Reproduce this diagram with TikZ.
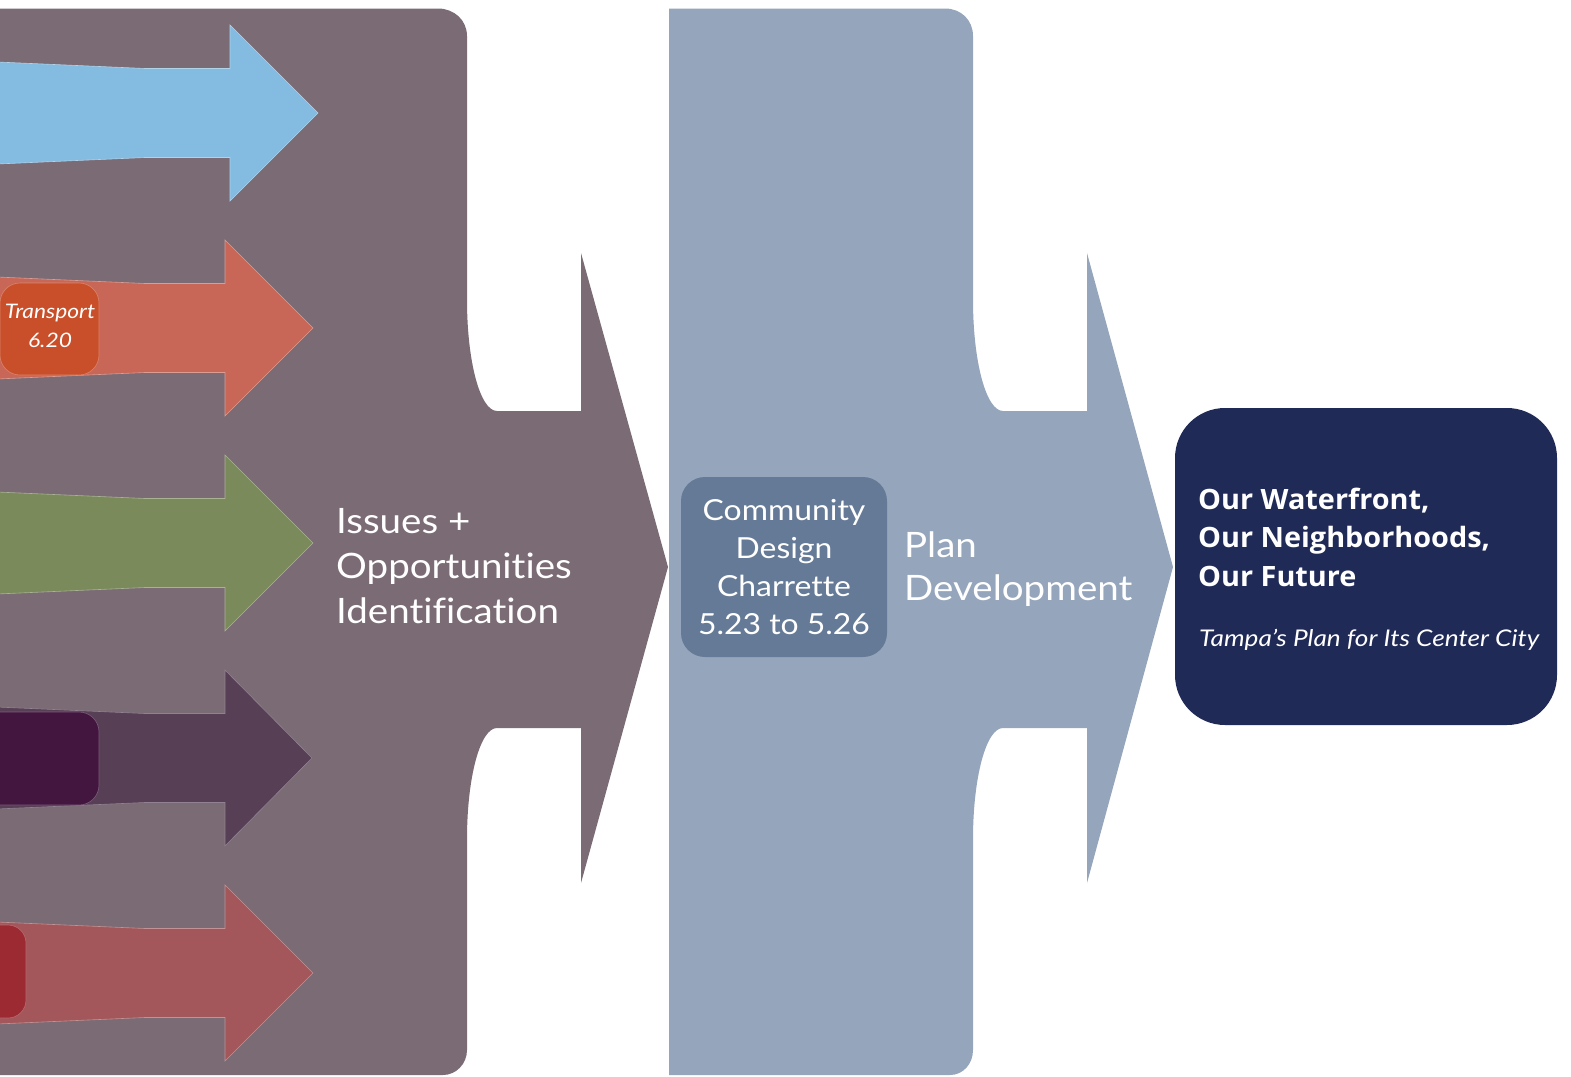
\documentclass[tikz,border=0pt]{standalone}
\usepackage{fontspec}
\setmainfont{Lato}[Ligatures=NoCommon, FakeStretch=1.1]
\newfontfamily\slantfont{Lato}[Ligatures=NoCommon, FakeStretch=1.14]
\newfontfamily\headfont{Open Sans}[FakeStretch=1.03]
\definecolor{mauve}{HTML}{7B6B75}
\definecolor{steel}{HTML}{95A5BB}
\definecolor{steeldark}{HTML}{657A96}
\definecolor{navy}{HTML}{1F2A56}
\definecolor{skyarrow}{HTML}{84BBE0}
\definecolor{rustarrow}{HTML}{C86757}
\definecolor{rustbox}{HTML}{C84F2A}
\definecolor{olivearrow}{HTML}{7A8A5B}
\definecolor{plumarrow}{HTML}{573F56}
\definecolor{plumbox}{HTML}{42163F}
\definecolor{winearrow}{HTML}{A3575A}
\definecolor{winebox}{HTML}{9C2A33}
% feeder arrow: #1 centre y, #2 neck x, #3 tip x, #4 colour
\newcommand{\feedarrow}[4]{%
  \fill[#4, draw=#4!65!white, line width=0.6pt]
    (-3,#1-51) -- (145,#1-44.5) -- (#2,#1-44.5) -- (#2,#1-88) -- (#3,#1)
    -- (#2,#1+88) -- (#2,#1+44.5) -- (145,#1+44.5) -- (-3,#1+51) -- cycle;}
\tikzset{
  wtext/.style={text=white, inner sep=0pt, anchor=base west},
  ctext/.style={text=white, inner sep=0pt, anchor=base},
  issuesfont/.style={font=\fontsize{35}{45}\selectfont},
  planfont/.style={font=\fontsize{35}{43}\selectfont},
  charfont/.style={font=\fontsize{29}{38}\selectfont},
  goalfont/.style={font=\headfont\bfseries\fontsize{28}{38}\selectfont},
  subfont/.style={font=\slantfont\itshape\fontsize{23}{28}\selectfont},
  tagfont/.style={font=\slantfont\itshape\fontsize{20}{28}\selectfont},
}
\begin{document}
\begin{tikzpicture}[x=1pt,y=-1pt]
\useasboundingbox (0,0) rectangle (1571,1076);
\begin{scope}
\clip (0,0) rectangle (1571,1076);

% first stage: notched band ending in a chevron
\fill[mauve] (-5,8.5) -- (438,8.5) .. controls (454,8.5) and (467,20) .. (467,36)
  -- (467,300) .. controls (467,361) and (480,411) .. (497,411)
  -- (581,411) -- (581,253) -- (668,567) -- (581,883) -- (581,728)
  -- (497,728) .. controls (480,728) and (467,778) .. (467,839)
  -- (467,1050) .. controls (467,1064) and (456,1075) .. (443,1075)
  -- (-5,1075) -- cycle;

% second stage
\fill[steel] (669,8.5) -- (945,8.5) .. controls (961,8.5) and (973,20) .. (973,36)
  -- (973,300) .. controls (973,361) and (986,411) .. (1003,411)
  -- (1087,411) -- (1087,253) -- (1173,567) -- (1087,883) -- (1087,728)
  -- (1003,728) .. controls (986,728) and (973,778) .. (973,839)
  -- (973,1050) .. controls (973,1064) and (963,1075) .. (950,1075)
  -- (669,1075) -- cycle;

% feeder arrows
\feedarrow{113}{230}{318}{skyarrow}
\feedarrow{328}{225}{313}{rustarrow}
\feedarrow{543}{225}{313}{olivearrow}
\feedarrow{758}{225}{312}{plumarrow}
\feedarrow{973}{225}{313}{winearrow}

% tags on the feeder arrows
\fill[rustbox, draw=rustbox!70!white, line width=0.6pt, rounded corners=20pt]
  (0,283) rectangle (99,375);
\fill[plumbox, draw=plumbox!70!white, line width=0.6pt, rounded corners=20pt]
  (-40,712) rectangle (99,805);
\fill[winebox, draw=winebox!70!white, line width=0.6pt, rounded corners=18pt]
  (-40,925) rectangle (26,1018);
\end{scope}

\node[ctext, tagfont] (tag1) at (50,318) {Transport};
\node[ctext, tagfont] (tag2) at (50,347) {6.20};

% first stage label
\node[wtext, issuesfont] (iss1) at (336,533) {Issues +};
\node[wtext, issuesfont] (iss2) at (336,578) {Opportunities};
\node[wtext, issuesfont] (iss3) at (336,623) {Identification};

% charrette box
\fill[steeldark, rounded corners=24pt] (681,477) rectangle (887,657);
\node[ctext, charfont] (ch1) at (784,520) {Community};
\node[ctext, charfont] (ch2) at (784,558) {Design};
\node[ctext, charfont] (ch3) at (784,596) {Charrette};
\node[ctext, charfont] (ch4) at (784,634) {5.23 to 5.26};

% second stage label
\node[wtext, planfont] (pl1) at (904,557) {Plan};
\node[wtext, planfont] (pl2) at (904,600) {Development};

% outcome box
\fill[navy, rounded corners=50pt] (1175,408) rectangle (1557,725);
\node[wtext, goalfont] (g1) at (1198,509) {Our Waterfront,};
\node[wtext, goalfont] (g2) at (1198,547) {Our Neighborhoods,};
\node[wtext, goalfont] (g3) at (1198,586) {Our Future};
\node[wtext, subfont] (g4) at (1199,646) {Tampa’s Plan for Its Center City};
\end{tikzpicture}
\end{document}
